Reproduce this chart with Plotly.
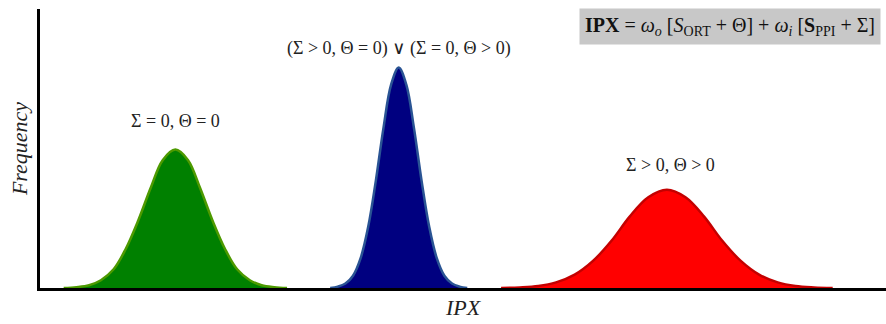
import plotly.graph_objects as go

# --- data (IPX on 0..10 scale, frequency on 0..1 scale) ---
green_x = [0.28, 0.43, 0.58, 0.72, 0.87, 1.01, 1.16, 1.31, 1.45, 1.60,
           1.75, 1.89, 2.04, 2.19, 2.33, 2.48, 2.62, 2.77, 2.92]
green_y = [0.000, 0.003, 0.010, 0.028, 0.067, 0.138, 0.241, 0.360, 0.458, 0.496,
           0.458, 0.360, 0.241, 0.138, 0.067, 0.028, 0.010, 0.003, 0.000]

blue_x = [3.43, 3.52, 3.61, 3.70, 3.79, 3.88, 3.97, 4.06, 4.15, 4.24,
          4.33, 4.42, 4.51, 4.60, 4.69, 4.78, 4.87, 4.96, 5.05]
blue_y = [0.000, 0.005, 0.016, 0.044, 0.107, 0.220, 0.385, 0.574, 0.729, 0.790,
          0.729, 0.574, 0.385, 0.220, 0.107, 0.044, 0.016, 0.005, 0.000]

red_x = [5.45, 5.67, 5.89, 6.10, 6.32, 6.54, 6.76, 6.97, 7.19, 7.41,
         7.63, 7.85, 8.06, 8.28, 8.50, 8.72, 8.93, 9.15, 9.37]
red_y = [0.000, 0.002, 0.007, 0.020, 0.048, 0.098, 0.171, 0.256, 0.325, 0.352,
         0.325, 0.256, 0.171, 0.098, 0.048, 0.020, 0.007, 0.002, 0.000]

labels = ["Σ = 0, Θ = 0",
          "(Σ > 0, Θ = 0) ∨ (Σ = 0, Θ > 0)",
          "Σ > 0, Θ > 0"]
label_x = [1.60, 4.24, 7.45]
label_y = [0.60, 0.86, 0.44]

formula = ("<b>IPX</b> = <i>ω</i><sub><i>o</i></sub> [<i>S</i><sub>ORT</sub> + Θ]"
           " + <i>ω</i><sub><i>i</i></sub> [<b>S</b><sub>PPI</sub> + Σ]")

SERIF = "Liberation Serif, DejaVu Serif, serif"

fig = go.Figure()
for xs, ys, fill, line in [(green_x, green_y, "#008000", "#4d9a00"),
                           (blue_x, blue_y, "#000080", "#2a5494"),
                           (red_x, red_y, "#ff0000", "#c40000")]:
    fig.add_trace(go.Scatter(x=xs, y=ys, mode="lines", fill="tozeroy",
                             fillcolor=fill,
                             line=dict(color=line, width=2.5, shape="spline", smoothing=1.0),
                             hoverinfo="skip", showlegend=False))

for t, x, y in zip(labels, label_x, label_y):
    fig.add_annotation(x=x, y=y, xref="x", yref="y", text=t, showarrow=False,
                       font=dict(family=SERIF, size=18, color="#222"))

fig.add_annotation(x=8.16, y=0.939, xref="x", yref="y", text=formula, showarrow=False,
                   font=dict(family=SERIF, size=20, color="#111"),
                   bgcolor="#c8c8c8", borderpad=5)

fig.update_layout(
    width=886, height=324,
    margin=dict(l=40, r=0, t=9, b=36),
    paper_bgcolor="white", plot_bgcolor="white",
    xaxis=dict(range=[0, 10], showgrid=False, zeroline=False, showticklabels=False,
               ticks="", showline=True, linecolor="black", linewidth=3,
               title=dict(text="<i>IPX</i>", font=dict(family=SERIF, size=22, color="#222"),
                          standoff=10)),
    yaxis=dict(range=[0, 1.0], showgrid=False, zeroline=False, showticklabels=False,
               ticks="", showline=True, linecolor="black", linewidth=2.5,
               title=dict(text="<i>Frequency</i>", font=dict(family=SERIF, size=22, color="#222"),
                          standoff=4)),
)

fig.write_html("out.html")
